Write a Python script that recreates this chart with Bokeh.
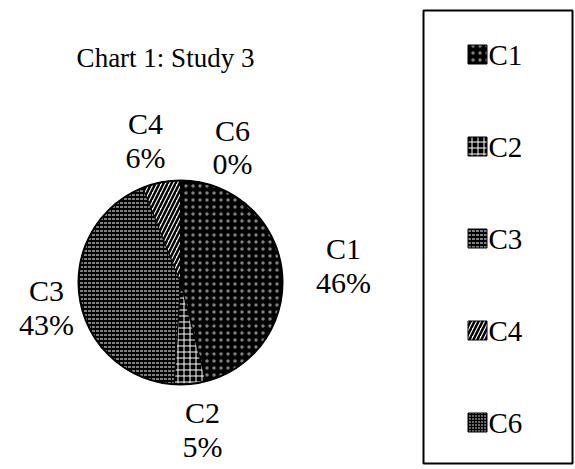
import math
from bokeh.plotting import figure
from bokeh.models import Range1d
from bokeh.embed import file_html
from bokeh.resources import INLINE
from bokeh.core.properties import value

# ---- data ----
categories = ["C1", "C2", "C3", "C4", "C6"]
percents = [46, 5, 43, 6, 0]
chart_title = "Chart 1: Study 3"

# ---- styles (each pattern keeps a distinct scale) ----
fill_colors = ["black", "black", "black", "white", "black"]
hatch_patterns = ["dot", "cross", "horizontal_dash", "right_diagonal_line", "dot"]
hatch_colors = ["white", "white", "white", "black", "white"]
hatch_alphas = [0.5, 1.0, 1.0, 1.0, 1.0]
hatch_scales = [7, 6, 4, 8, 3]
hatch_weights = [1, 1, 1, 2.5, 1]

W, H = 575, 469
FONT = "Liberation Serif"


def fx(ox):
    return ox


def fy(oy):
    return H - oy


p = figure(width=W, height=H, output_backend="svg", toolbar_location=None,
           x_range=Range1d(0, W), y_range=Range1d(0, H), min_border=0)
p.axis.visible = False
p.grid.visible = False
p.outline_line_color = None
p.background_fill_color = "white"

# ---- pie ----
cx, cy, r = fx(180), fy(282), 102
total = sum(percents)
acc = 0.0
for i, v in enumerate(percents):
    a0 = acc / total
    acc += v
    a1 = acc / total
    if v <= 0:
        continue
    p.wedge(x=cx, y=cy, radius=r,
            start_angle=math.pi / 2 - a1 * 2 * math.pi,
            end_angle=math.pi / 2 - a0 * 2 * math.pi,
            fill_color=fill_colors[i], hatch_pattern=hatch_patterns[i],
            hatch_color=hatch_colors[i], hatch_alpha=hatch_alphas[i],
            hatch_scale=hatch_scales[i], hatch_weight=hatch_weights[i],
            line_color="black", line_width=1)
p.circle(x=cx, y=cy, radius=r, fill_color=None, line_color="black", line_width=2)

# ---- title ----
p.text(x=[fx(165)], y=[fy(57)], text=[chart_title], text_font=value(FONT),
       text_font_size="27px", text_align="center", text_baseline="middle",
       text_color="black")

# ---- data labels ----
label_pos = [(343, 248, 282), (202, 412, 446), (46, 290, 324),
             (145, 123, 157), (232, 130, 163)]
lx, ly, lt = [], [], []
for cat, pct, (x, y1, y2) in zip(categories, percents, label_pos):
    lx += [fx(x), fx(x)]
    ly += [fy(y1), fy(y2)]
    lt += [cat, f"{pct}%"]
p.text(x=lx, y=ly, text=lt, text_font=value(FONT), text_font_size="30px",
       text_align="center", text_baseline="middle", text_color="black")

# ---- legend ----
p.quad(left=fx(423), right=fx(572), top=fy(10), bottom=fy(463),
       fill_color=None, line_color="black", line_width=2)
leg_y = [54, 146, 238, 330, 422]
for i, cat in enumerate(categories):
    p.rect(x=[fx(477)], y=[fy(leg_y[i])], width=19, height=19,
           width_units="screen", height_units="screen",
           fill_color=fill_colors[i], hatch_pattern=hatch_patterns[i],
           hatch_color=hatch_colors[i], hatch_alpha=hatch_alphas[i],
           hatch_scale=hatch_scales[i], hatch_weight=hatch_weights[i],
           line_color="black", line_width=1)
    p.text(x=[fx(488)], y=[fy(leg_y[i])], text=[cat], text_font=value(FONT),
           text_font_size="29px", text_align="left", text_baseline="middle",
           text_color="black")

open("out.html", "w").write(file_html(p, INLINE))
